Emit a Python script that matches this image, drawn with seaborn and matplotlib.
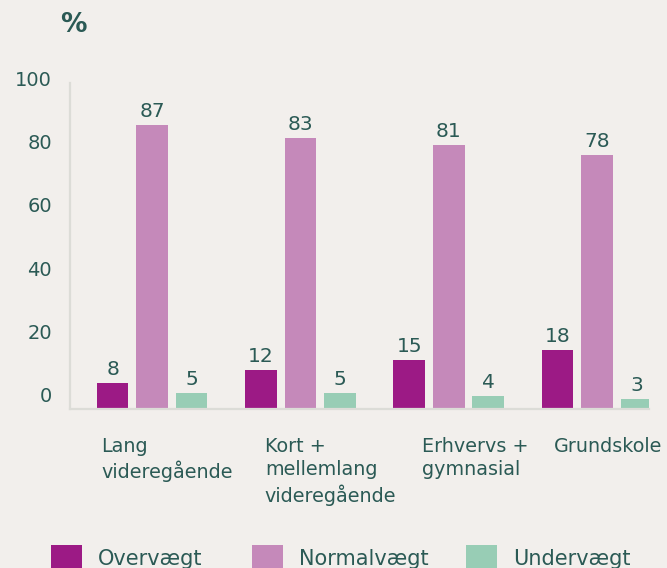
import pandas as pd
import matplotlib.pyplot as plt
import matplotlib.transforms as mtransforms
import seaborn as sns
from matplotlib.patches import Patch

# Data
uddannelse = ["Lang\nvideregående", "Kort +\nmellemlang\nvideregående",
              "Erhvervs +\ngymnasial", "Grundskole"]
grupper = ["Overvægt", "Normalvægt", "Undervægt"]
overvaegt = [8, 12, 15, 18]
normalvaegt = [87, 83, 81, 78]
undervaegt = [5, 5, 4, 3]
y_ticks = [0, 20, 40, 60, 80, 100]

# Styling
bg = "#f2efec"
tekst = "#2b5a55"
farver = ["#9c1a85", "#c589ba", "#98cdb5"]
label_dx = [-0.345, -0.24, -0.18, -0.29]
ylabel_lift = [12.5, 10.5, 8.5, 6.5, 4.5, 2.5]  # px

sns.set_theme(style="white")
plt.rcParams["font.family"] = ["DejaVu Sans"]

df = pd.DataFrame({
    "uddannelse": uddannelse * 3,
    "gruppe": [g for g in grupper for _ in uddannelse],
    "pct": overvaegt + normalvaegt + undervaegt,
})

fig = plt.figure(figsize=(6.67, 5.68), dpi=100, facecolor=bg)
ax = fig.add_axes([70 / 667, 1 - 409 / 568, 579 / 667, 326 / 568])
ax.set_facecolor(bg)

sns.barplot(data=df, x="uddannelse", y="pct", hue="gruppe", hue_order=grupper,
            palette=farver, saturation=1, width=0.8, gap=0.2, linewidth=0,
            edgecolor="none", ax=ax, legend=False)

for cont in ax.containers:
    ax.bar_label(cont, fontsize=14.5, color=tekst, padding=3)

ax.set_xlim(-0.554, 3.351)
ax.set_ylim(0, 100)
ax.set_yticks(y_ticks)
ax.set_yticklabels([])
ax.tick_params(axis="y", length=0)
ax.set_xticks([])
ax.set_xlabel("")
ax.set_ylabel("")

# y labels sit a little above their gridline
for v, lift in zip(y_ticks, ylabel_lift):
    ytrans = mtransforms.blended_transform_factory(ax.transAxes, ax.transData) + \
        mtransforms.ScaledTranslation(0, lift / 100, fig.dpi_scale_trans)
    ax.text(-0.031, v, str(v), transform=ytrans, ha="right", va="center",
            fontsize=14, color=tekst)

for side in ["top", "right"]:
    ax.spines[side].set_visible(False)
for side in ["left", "bottom"]:
    ax.spines[side].set_color("#dcdcd7")
    ax.spines[side].set_linewidth(1.6)

trans = mtransforms.blended_transform_factory(ax.transData, ax.transAxes)
for i, navn in enumerate(uddannelse):
    ax.text(i + label_dx[i], -0.085, navn, transform=trans, ha="left", va="top",
            fontsize=13.8, color=tekst, linespacing=1.3)

fig.text(60 / 667, 1 - 25 / 568, "%", fontsize=19, fontweight="bold",
         color=tekst, va="center", ha="left")

# Legend, one entry per anchor
leg_x = [51, 252, 466]
for g, c, x0 in zip(grupper, farver, leg_x):
    leg = fig.legend(handles=[Patch(facecolor=c, edgecolor="none")], labels=[g],
                     loc="center left", bbox_to_anchor=(x0 / 667, 10 / 568),
                     frameon=False, fontsize=15, handlelength=1.5, handleheight=1.5,
                     handletextpad=0.75, borderpad=0, borderaxespad=0)
    for t in leg.get_texts():
        t.set_color(tekst)

plt.savefig("out.png", dpi=100, facecolor=bg)
